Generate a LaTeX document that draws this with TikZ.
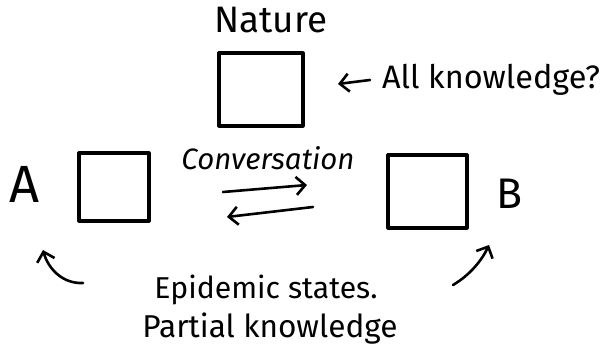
\documentclass[tikz,border=0pt]{standalone}
\usepackage{fontspec}
\setmainfont{Fira Sans}
\usetikzlibrary{arrows.meta}
\newcommand{\fitw}[2]{\resizebox{#1}{!}{#2}}
\begin{document}
\begin{tikzpicture}[x=1pt,y=-1pt,
  ink/.style={line width=3.2pt, line cap=round, line join=round},
  sketchbox/.style={draw, ink, rectangle, inner sep=0pt},
  hand/.style={inner sep=0pt, anchor=center},
  barb/.style={line width=2.6pt, line cap=round, -{Straight Barb[length=9pt,width=18pt,line width=2.6pt]}}
]
\useasboundingbox (0,0) rectangle (608,352);

% boxes
\node[sketchbox, minimum width=84pt, minimum height=73pt] (nature) at (261,89.5) {};
\node[sketchbox, minimum width=70pt, minimum height=68pt] (boxA) at (114,187) {};
\node[sketchbox, minimum width=79pt, minimum height=73pt] (boxB) at (427.5,191.5) {};

% texts
\node[hand] (naturelbl) at (271,20) {\fitw{113pt}{Nature}};
\node[hand] (allk) at (491,80) {\fitw{218pt}{All knowledge?}};
\node[hand] (conv) at (268,158) {\fitw{173pt}{\itshape Conversation}};
\node[hand] (lblA) at (25,184) {\fitw{30pt}{A}};
\node[hand] (lblB) at (509,194) {\fitw{26pt}{B}};
\node[hand] (epi) at (266,290) {\fitw{223pt}{Epidemic states.}};
\node[hand] (part) at (270,329) {\fitw{255pt}{Partial knowledge}};

% arrow coordinates
\coordinate (r1) at (223,192);
\coordinate (r2) at (307,185);
\coordinate (l1) at (313,207);
\coordinate (l2) at (227,217);
\coordinate (k1) at (370,80);
\coordinate (k2) at (338,84);
\coordinate (ca1) at (83,283);
\coordinate (ca2) at (43,250);
\coordinate (cb1) at (453,285);
\coordinate (cb2) at (489,245);

\draw[barb] (r1) -- (r2);
\draw[barb] (l1) -- (l2);
\draw[barb] (k1) -- (k2);
\draw[barb] (ca1) .. controls (62,284) and (48,268) .. (ca2);
\draw[barb] (cb1) .. controls (470,275) and (482,260) .. (cb2);
\end{tikzpicture}
\end{document}
